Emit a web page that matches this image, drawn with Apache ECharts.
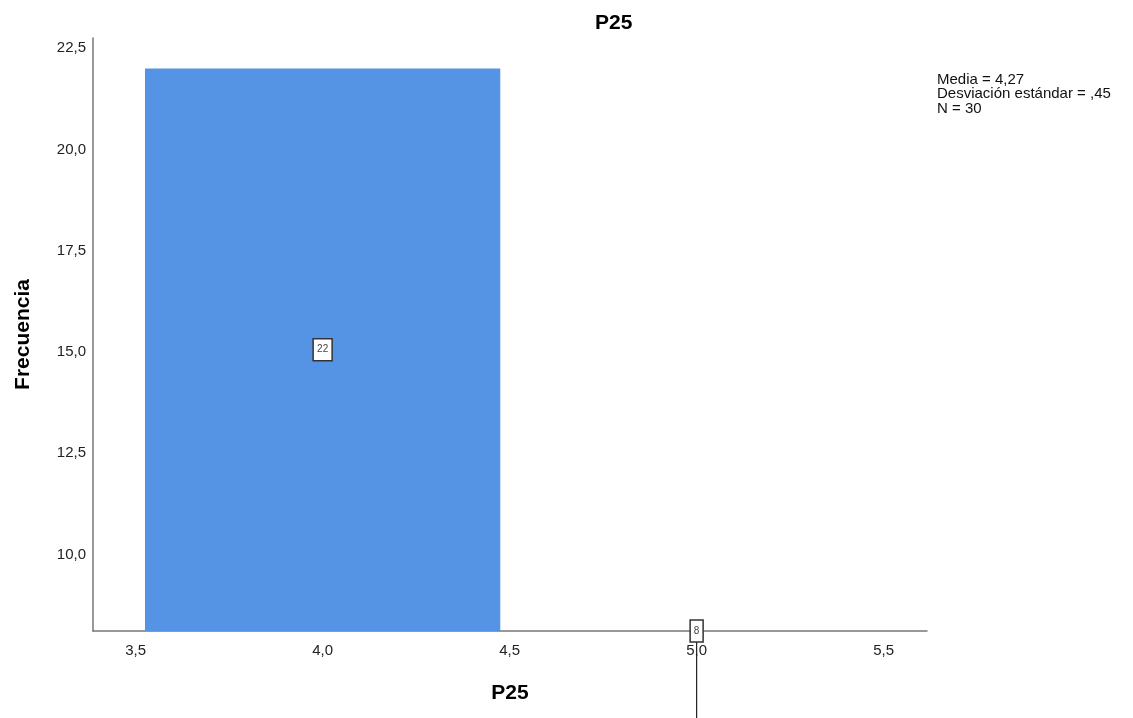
<!DOCTYPE html>
<html>
<head>
<meta charset="utf-8">
<title>P25</title>
<script src="https://cdn.jsdelivr.net/npm/echarts@6/dist/echarts.min.js"></script>
<style>
  html, body { margin: 0; padding: 0; background: #ffffff; }
  #chart { width: 1133px; height: 718px; }
</style>
</head>
<body>
<div id="chart"></div>
<script>
// Histogram of P25: bin centres and frequencies
const binCenters = [4, 5];
const counts = [22, 8];

// Axis tick labels
const xTicks = [3.5, 4.0, 4.5, 5.0, 5.5];
const yTicks = [10.0, 12.5, 15.0, 17.5, 20.0, 22.5];

// Axis extents
const xMin = 3.386, xMax = 5.616;
const yMin = 8.11, yMax = 22.75;

const FONT = '"Liberation Sans", Arial, sans-serif';
const fmt = v => v.toFixed(1).replace('.', ',');

// Summary statistics from the binned values
const n = counts.reduce((a, b) => a + b, 0);
const mean = binCenters.reduce((s, c, i) => s + c * counts[i], 0) / n;
const variance = binCenters.reduce((s, c, i) => s + counts[i] * (c - mean) ** 2, 0) / (n - 1);
const sd = Math.sqrt(variance);
const spssNum = v => v.toFixed(2).replace('.', ',').replace(/^0,/, ',');
const statsLines = [
  'Media = ' + spssNum(mean),
  'Desviación estándar = ' + spssNum(sd),
  'N = ' + n
];

const data = binCenters.map((c, i) => [c, counts[i]]);
const half = 0.475;

const chart = echarts.init(document.getElementById('chart'), null, { renderer: 'canvas' });

chart.setOption({
  animation: false,
  backgroundColor: '#ffffff',
  title: {
    text: 'P25',
    left: 590,
    top: 8,
    textStyle: { fontFamily: FONT, fontSize: 21, fontWeight: 'bold', color: '#000' }
  },
  grid: { left: 93, top: 38, right: 206, bottom: 87, containLabel: false },
  xAxis: {
    type: 'value',
    min: xMin,
    max: xMax,
    name: 'P25',
    nameLocation: 'middle',
    nameGap: 52,
    nameTextStyle: { fontFamily: FONT, fontSize: 21, fontWeight: 'bold', color: '#000' },
    axisLine: { onZero: false, lineStyle: { color: '#777', width: 1.5 } },
    axisTick: { show: false },
    splitLine: { show: false },
    axisLabel: {
      customValues: xTicks,
      formatter: fmt,
      fontFamily: FONT, fontSize: 15, color: '#222', margin: 12
    }
  },
  yAxis: {
    type: 'value',
    min: yMin,
    max: yMax,
    name: 'Frecuencia',
    nameLocation: 'middle',
    nameGap: 59,
    nameRotate: 90,
    nameTextStyle: { fontFamily: FONT, fontSize: 21, fontWeight: 'bold', color: '#000' },
    axisLine: { show: true, onZero: false, lineStyle: { color: '#777', width: 1.5 } },
    axisTick: { show: false },
    splitLine: { show: false },
    axisLabel: {
      customValues: yTicks,
      formatter: fmt,
      fontFamily: FONT, fontSize: 15, color: '#222', margin: 7
    }
  },
  graphic: [{
    type: 'text',
    left: 937,
    top: 72,
    style: {
      text: statsLines.join('\n'),
      font: '15px ' + FONT,
      lineHeight: 14.5,
      fill: '#111'
    }
  }],
  series: [
    {
      // histogram bars
      type: 'custom',
      clip: true,
      data: data,
      encode: { x: 0, y: 1 },
      renderItem: function (params, api) {
        const c = api.value(0), v = api.value(1);
        const p0 = api.coord([c - half, v]);
        const p1 = api.coord([c + half, yMin]);
        return {
          type: 'rect',
          shape: { x: p0[0], y: p0[1], width: p1[0] - p0[0], height: p1[1] - p0[1] },
          style: { fill: '#5594e4' }
        };
      }
    },
    {
      // boxed frequency labels
      type: 'custom',
      clip: false,
      z: 5,
      data: data,
      encode: { x: 0, y: 1 },
      renderItem: function (params, api) {
        const c = api.value(0), v = api.value(1);
        const ly = Math.max((yMin + v) / 2, yMin);
        const p = api.coord([c, ly]);
        const txt = String(v);
        const w = txt.length * 6 + 7;
        const h = 22;
        const children = [];
        if (v < yMin) {
          const base = api.coord([c, 0]);
          children.push({
            type: 'line',
            shape: { x1: p[0], y1: p[1] + h / 2, x2: base[0], y2: base[1] },
            style: { stroke: '#222', lineWidth: 1.2 }
          });
        }
        children.push({
          type: 'rect',
          shape: { x: p[0] - w / 2, y: p[1] - h / 2, width: w, height: h },
          style: { fill: '#ffffff', stroke: '#333', lineWidth: 1.5 }
        });
        children.push({
          type: 'text',
          x: p[0],
          y: p[1],
          style: {
            text: txt,
            font: '10px ' + FONT,
            fill: '#444',
            align: 'center',
            verticalAlign: 'middle'
          }
        });
        return { type: 'group', children: children };
      }
    }
  ]
});
</script>
</body>
</html>
